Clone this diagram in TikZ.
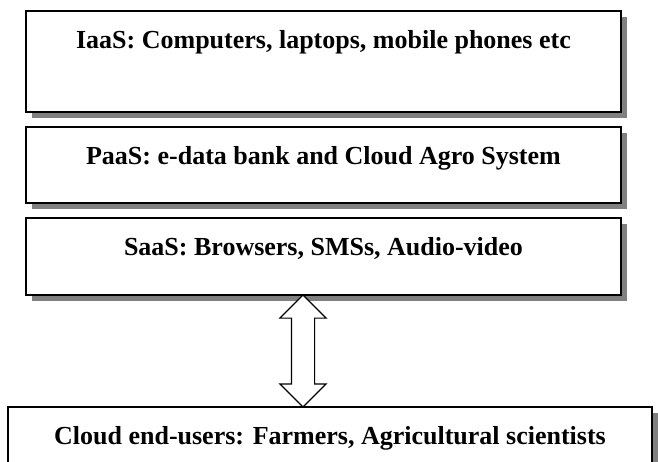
\documentclass[tikz,border=0pt]{standalone}
\usepackage{fontspec}
\setmainfont{Liberation Serif}
\usepackage{tikz}
\usetikzlibrary{positioning,shadows,shapes.arrows,calc}
\definecolor{shadowgray}{RGB}{128,128,128}
\tikzstyle{layer} = [rectangle, draw=black, line width=1.8pt, fill=white, minimum width=595pt, inner sep=0pt, outer sep=0pt, text height=37pt, font=\fontsize{26}{30}\selectfont\bfseries, drop shadow={shadow xshift=5.5pt, shadow yshift=-5.5pt, fill=shadowgray, opacity=1}]
\tikzstyle{updown} = [double arrow, draw=black, line width=1.2pt, fill=white, rotate=90, minimum height=112pt, inner xsep=0pt, inner ysep=11pt, double arrow head extend=11.5pt, double arrow tip angle=90, outer sep=0pt]

\begin{document}
\begin{tikzpicture}[x=1pt, y=-1pt]
\useasboundingbox (0,0) rectangle (658,461);
\clip (0,0) rectangle (658,461);
% Service layers
\node (iaas) [layer, anchor=north, text depth=64pt] at (323.5,11) {IaaS: Computers, laptops, mobile phones etc};
\node (paas) [layer, below=15pt of iaas, text depth=39pt] {PaaS: e-data bank and Cloud Agro System};
\node (saas) [layer, below=15pt of paas, text depth=40pt] {SaaS: Browsers, SMSs, Audio-video};

% Users
\node (users) [layer, anchor=north, minimum width=644pt, text depth=30pt] at (330,407) {Cloud end-users: Farmers, Agricultural scientists};

% Two-way link
\node (link) [updown] at ($(saas.south)!0.5!(users.north)+(-23.75,0)$) {};
\end{tikzpicture}
\end{document}
